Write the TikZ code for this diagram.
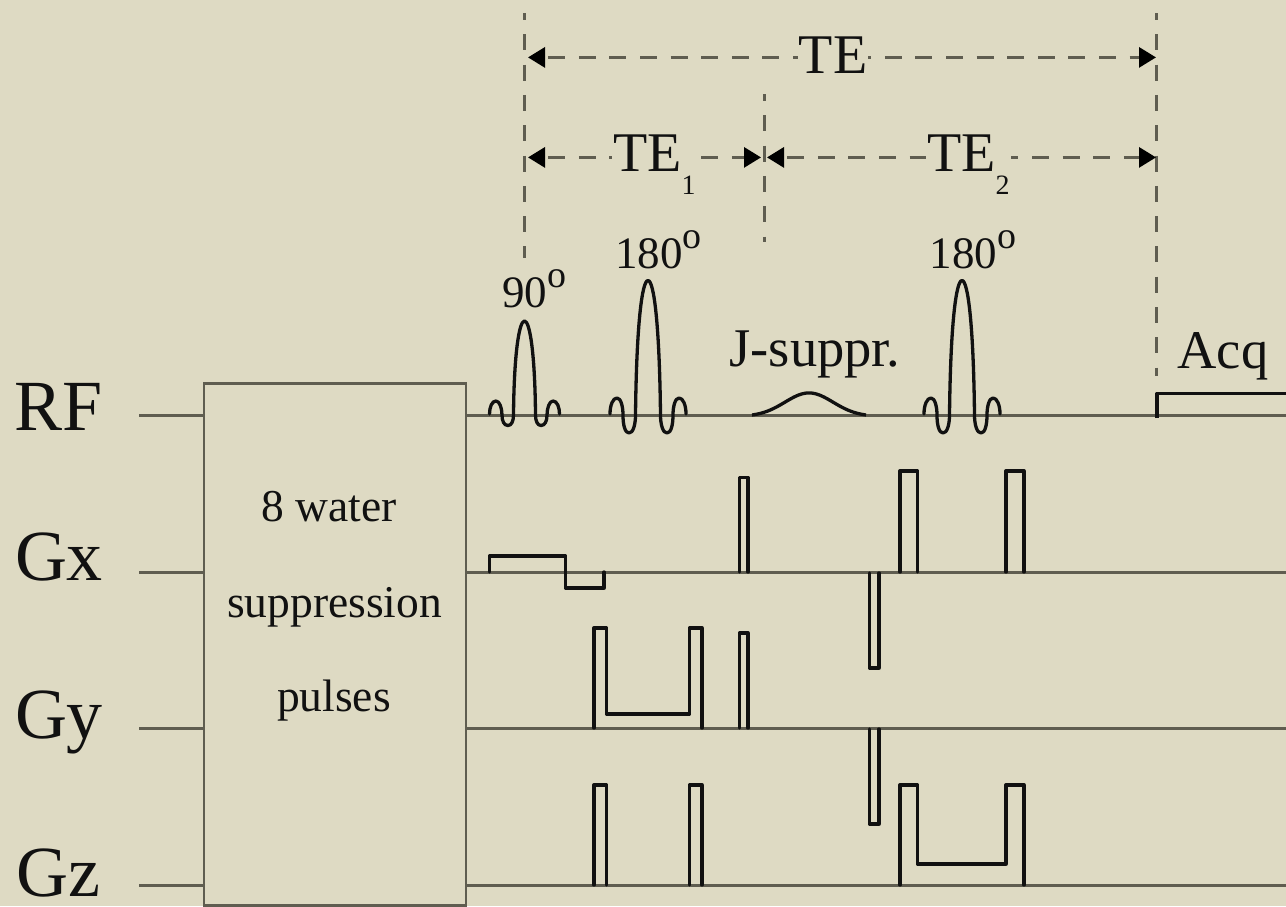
\documentclass[tikz,border=0pt]{standalone}
\usepackage{fontspec}
\setmainfont{Liberation Serif}
\usetikzlibrary{arrows.meta}
\definecolor{bgc}{HTML}{DEDAC3}
\definecolor{axisc}{HTML}{5F5D50}
\definecolor{inkc}{HTML}{111111}
\tikzset{
  x=1pt,y=-1pt,
  axisline/.style={draw=axisc,line width=3pt},
  pulse/.style={draw=inkc,line width=3.3pt,line join=round,line cap=round},
  guide/.style={draw=axisc,line width=3pt,dash pattern=on 16pt off 14.3pt,dash phase=9pt},
  dimline/.style={draw=axisc,line width=3pt,dash pattern=on 17pt off 13.6pt,dash phase=-4pt,
    {Triangle[length=17pt,width=20pt,color=black]}-{Triangle[length=17pt,width=20pt,color=black]}},
  bigl/.style={inner sep=0pt,anchor=base,font=\fontsize{72}{72}\selectfont,text=inkc},
  tel/.style={inner sep=1pt,fill=bgc,font=\fontsize{56}{56}\selectfont,text=inkc},
  midl/.style={inner sep=0pt,font=\fontsize{54.5}{54.5}\selectfont,text=inkc},
  degl/.style={inner sep=0pt,anchor=base west,font=\fontsize{45}{45}\selectfont,text=inkc},
  boxt/.style={inner sep=0pt,anchor=base,font=\fontsize{45.5}{45.5}\selectfont,text=inkc},
}
\newcommand{\TEsub}[1]{TE\raisebox{-23pt}{\fontsize{28}{28}\selectfont #1}}
\newcommand{\degsym}{\raisebox{19.5pt}{\fontsize{38}{38}\selectfont o}}
\newcommand{\pulseB}[1]{\draw[pulse,shift={(#1,415)}] (-38,-1) .. controls (-38,-10) and (-35,-17) .. (-31,-17) .. controls (-27,-17) and (-25,-8) .. (-25,0) .. controls (-25,10) and (-23,18) .. (-19,18) .. controls (-15,18) and (-12.5,10) .. (-12.5,0) .. controls (-11.5,-90) and (-6,-134.5) .. (0,-134.5) .. controls (6,-134.5) and (11.5,-90) .. (12.5,0) .. controls (12.5,10) and (15,18) .. (19,18) .. controls (23,18) and (25,10) .. (25,0) .. controls (25,-8) and (27,-17) .. (31,-17) .. controls (35,-17) and (38,-10) .. (38,-1);}
\begin{document}
\begin{tikzpicture}
\fill[bgc] (0,0) rectangle (1286,906);
\useasboundingbox (0,0) rectangle (1286,906);
% axis lines
\coordinate (rfa) at (139,415); \coordinate (rfb) at (1286,415);
\coordinate (gxa) at (139,572); \coordinate (gxb) at (1286,572);
\coordinate (gya) at (139,728.5); \coordinate (gyb) at (1286,728.5);
\coordinate (gza) at (139,885); \coordinate (gzb) at (1286,885);
\draw[axisline] (rfa) -- (rfb);
\draw[axisline] (gxa) -- (gxb);
\draw[axisline] (gya) -- (gyb);
\draw[axisline] (gza) -- (gzb);
% box
\path[draw=axisc,line width=2.6pt,fill=bgc] (204,383.5) rectangle (466,905.5);
\node[boxt] (w1) at (329,521) {8 water};
\node[boxt] (w2) at (334.5,617) {suppression};
\node[boxt] (w3) at (334,711) {pulses};
% channel labels
\node[bigl] (rf) at (59,430) {RF};
\node[bigl] (gx) at (59,580) {Gx};
\node[bigl] (gy) at (59,738) {Gy};
\node[bigl] (gz) at (58,896) {Gz};
% RF pulses
\draw[pulse,shift={(524.5,415)}] (-35,-1) .. controls (-35,-8) and (-32.5,-14) .. (-28.5,-14) .. controls (-25,-14) and (-22.5,-7) .. (-22.5,0) .. controls (-22.5,6) and (-20.5,10.5) .. (-16.5,10.5) .. controls (-13,10.5) and (-11,6) .. (-11,0) .. controls (-10.5,-60) and (-5.5,-94) .. (0,-94) .. controls (5.5,-94) and (10.5,-60) .. (11,0) .. controls (11,6) and (13,10.5) .. (16.5,10.5) .. controls (20.5,10.5) and (22.5,6) .. (22.5,0) .. controls (22.5,-7) and (25,-14) .. (28.5,-14) .. controls (32.5,-14) and (35,-8) .. (35,-1);
\pulseB{648}
\pulseB{962}
\draw[pulse,line cap=butt] plot[domain=752:866,samples=50] (\x,{415-23.5*(exp(-((\x-809)/34)^2)-0.06)});
\draw[pulse,line cap=butt] (1157,418) -- (1157,393.5) -- (1286,393.5);
% Gx
\draw[pulse] (489.5,572) -- (489.5,556) -- (565.5,556) -- (565.5,588) -- (604,588) -- (604,572);
\draw[pulse] (739.5,572) -- (739.5,477.5) -- (748,477.5) -- (748,572);
\draw[pulse] (900,572) -- (900,471) -- (917.5,471) -- (917.5,572);
\draw[pulse] (1006,572) -- (1006,471) -- (1024,471) -- (1024,572);
\draw[pulse] (869.5,573) -- (869.5,668) -- (879,668) -- (879,573);
% Gy
\draw[pulse] (594,728) -- (594,628) -- (606.5,628) -- (606.5,714) -- (689.5,714) -- (689.5,628) -- (702,628) -- (702,728);
\draw[pulse] (739.5,728) -- (739.5,633) -- (748,633) -- (748,728);
\draw[pulse] (869.5,729) -- (869.5,824) -- (879,824) -- (879,729);
% Gz
\draw[pulse] (594,885) -- (594,785) -- (606.5,785) -- (606.5,885);
\draw[pulse] (689.5,885) -- (689.5,785) -- (702,785) -- (702,885);
\draw[pulse] (900,885) -- (900,785) -- (917.5,785) -- (917.5,864) -- (1006,864) -- (1006,785) -- (1024,785) -- (1024,885);
% guides
\coordinate (g1a) at (524.4,13); \coordinate (g1b) at (524.4,258);
\coordinate (g2a) at (764.4,94); \coordinate (g2b) at (764.4,242);
\coordinate (g3a) at (1156.5,13); \coordinate (g3b) at (1156.5,376);
\draw[guide] (g1a) -- (g1b);
\draw[guide] (g2a) -- (g2b);
\draw[guide] (g3a) -- (g3b);
% dimension arrows
\coordinate (d1a) at (528,57.4); \coordinate (d1b) at (1156,57.4);
\coordinate (d2a) at (528,157.4); \coordinate (d2b) at (761,157.4);
\coordinate (d3a) at (767,157.4); \coordinate (d3b) at (1156,157.4);
\draw[dimline] (d1a) -- (d1b);
\draw[dimline] (d2a) -- (d2b);
\draw[dimline] (d3a) -- (d3b);
\node[tel] (te) at (833,55) {TE};
\node[tel,anchor=west] (te1) at (612,165) {\TEsub{1}};
\node[tel,anchor=west] (te2) at (926,165) {\TEsub{2}};
% pulse labels
\node[degl] (p90) at (502,307) {90\degsym};
\node[degl] (p180a) at (615,268) {180\degsym};
\node[degl] (p180b) at (929.5,268) {180\degsym};
\node[midl,anchor=base] (js) at (815,366.5) {J-suppr.};
\node[midl,anchor=base] (acq) at (1223,368.5) {Acq};
\end{tikzpicture}
\end{document}
